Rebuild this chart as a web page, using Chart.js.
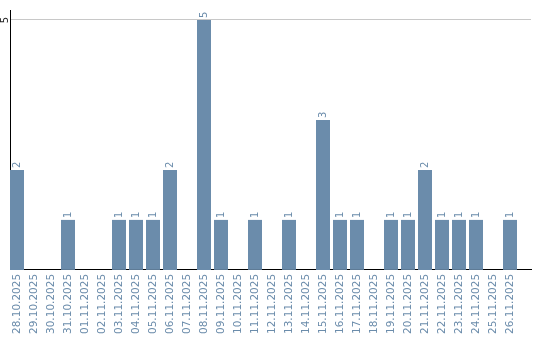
<html lang="en">
<head>
    <meta charset="UTF-8">
    <title>Daily Counts</title>
<style>
    body {
        margin: 0;
        background-color: #ffffff;
    }
</style>
</head>
<body>
    <canvas id="dailyChart" width="540" height="340"></canvas>

    <script src="https://cdn.jsdelivr.net/npm/chart.js"></script>

    <script>
        // Days shown on the x axis
        const days = ["28.10.2025", "29.10.2025", "30.10.2025", "31.10.2025", "01.11.2025",
            "02.11.2025", "03.11.2025", "04.11.2025", "05.11.2025", "06.11.2025",
            "07.11.2025", "08.11.2025", "09.11.2025", "10.11.2025", "11.11.2025",
            "12.11.2025", "13.11.2025", "14.11.2025", "15.11.2025", "16.11.2025",
            "17.11.2025", "18.11.2025", "19.11.2025", "20.11.2025", "21.11.2025",
            "22.11.2025", "23.11.2025", "24.11.2025", "25.11.2025", "26.11.2025"];
        // Count per day
        const counts = [2, 0, 0, 1, 0, 0, 1, 1, 1, 2, 0, 5, 1, 0, 1, 0, 1, 0, 3, 1, 1, 0, 1, 1, 2, 1, 1, 1, 0, 1];
        // Only tick printed on the y axis
        const yTicks = [5];

        const barColor = '#6b8cab';

        // Draws the value above each bar and the rotated y tick
        const labelPlugin = {
            id: 'labelPlugin',
            afterDatasetsDraw(chart) {
                const ctx = chart.ctx;
                const meta = chart.getDatasetMeta(0);
                ctx.save();
                ctx.font = '10px "DejaVu Sans"';
                ctx.fillStyle = barColor;
                ctx.textAlign = 'left';
                ctx.textBaseline = 'middle';
                meta.data.forEach((bar, i) => {
                    if (!counts[i]) return;
                    ctx.save();
                    ctx.translate(bar.x, bar.y - 2);
                    ctx.rotate(-Math.PI / 2);
                    ctx.fillText(String(counts[i]), 0, 0);
                    ctx.restore();
                });
                const yScale = chart.scales.y;
                ctx.fillStyle = '#222';
                ctx.textAlign = 'center';
                yTicks.forEach(v => {
                    ctx.save();
                    ctx.translate(5, yScale.getPixelForValue(v));
                    ctx.rotate(-Math.PI / 2);
                    ctx.fillText(String(v), 0, 0);
                    ctx.restore();
                });
                ctx.restore();
            }
        };

        const ctx = document.getElementById('dailyChart').getContext('2d');
        const dailyChart = new Chart(ctx, {
            type: 'bar',
            data: {
                datasets: [{
                    data: counts.map((c, i) => ({ x: i, y: c })),
                    backgroundColor: c => counts[c.dataIndex] ? barColor : 'rgba(0,0,0,0)',
                    borderWidth: 0,
                    inflateAmount: 0,
                    barThickness: 14
                }]
            },
            options: {
                responsive: false,
                animation: false,
                layout: {
                    padding: { left: 10, top: 10, right: 9, bottom: 2 }
                },
                plugins: {
                    legend: { display: false },
                    tooltip: { enabled: false }
                },
                scales: {
                    x: {
                        type: 'linear',
                        offset: false,
                        min: -7 / 17,
                        max: -7 / 17 + 521 / 17,
                        afterBuildTicks: axis => {
                            axis.ticks = days.map((d, i) => ({ value: i }));
                        },
                        ticks: {
                            autoSkip: false,
                            minRotation: 90,
                            maxRotation: 90,
                            padding: 4,
                            color: barColor,
                            font: { family: 'DejaVu Sans', size: 10.5 },
                            callback: v => days[v]
                        },
                        grid: { display: false, drawTicks: false },
                        border: { display: true, color: '#000', width: 1 }
                    },
                    y: {
                        min: 0,
                        max: 5.2,
                        afterBuildTicks: axis => {
                            axis.ticks = yTicks.map(v => ({ value: v }));
                        },
                        ticks: { display: false },
                        grid: { color: '#c8c8c8', drawTicks: false },
                        border: { display: true, color: '#000', width: 1 }
                    }
                }
            },
            plugins: [labelPlugin]
        });
    </script>
</body>
</html>
